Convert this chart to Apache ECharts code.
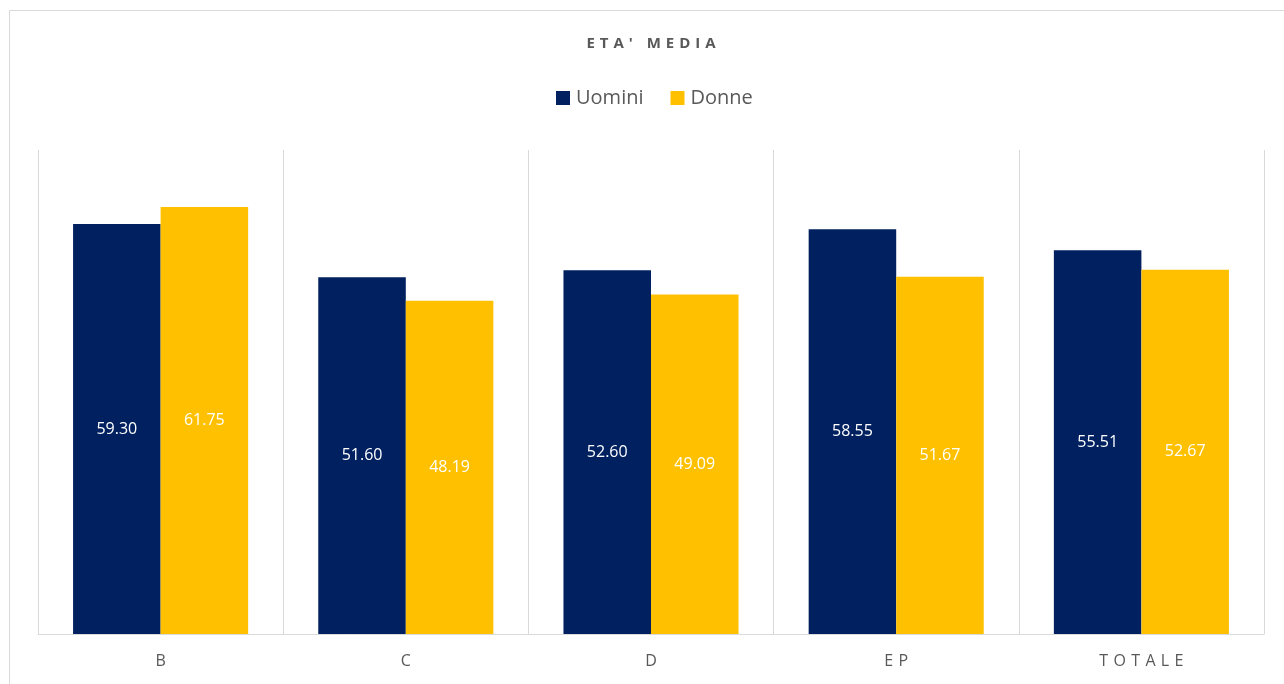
<!DOCTYPE html>
<html>
<head>
<meta charset="utf-8">
<script src="https://cdn.jsdelivr.net/npm/echarts@6/dist/echarts.min.js"></script>
<style>
  html, body { margin: 0; padding: 0; background: #ffffff; }
  #chart { width: 1284px; height: 684px; }
</style>
</head>
<body>
<div id="chart"></div>
<script>
// Average age by group, men vs women
const categories = ['B', 'C', 'D', 'EP', 'TOTALE'];
const uomini = [59.30, 51.60, 52.60, 58.55, 55.51];
const donne = [61.75, 48.19, 49.09, 51.67, 52.67];
const seriesNames = ['Uomini', 'Donne'];
const titleText = "ETA' MEDIA";

// widen letters with narrow spaces (Excel-style character spacing)
function spaced(s, gap, wordGap) {
  return s.split('').map(c => c === ' ' ? wordGap : c).join(gap);
}

const FONT = '"Open Sans", "Noto Sans", sans-serif';
const GRID_LEFT = 38, GRID_RIGHT = 20;
const plotCenter = GRID_LEFT + (1284 - GRID_LEFT - GRID_RIGHT) / 2;

const chart = echarts.init(document.getElementById('chart'), null, { renderer: 'canvas' });

chart.setOption({
  backgroundColor: '#ffffff',
  animation: false,
  graphic: [
    {
      type: 'rect',
      shape: { x: 9.5, y: 10.5, width: 1400, height: 800 },
      style: { fill: 'none', stroke: '#d9d9d9', lineWidth: 1 },
      silent: true,
      z: -10
    },
    {
      type: 'text',
      x: plotCenter,
      y: 44,
      style: {
        text: spaced(titleText, '\u2004', ' '),
        fill: '#595959',
        font: 'bold 15px ' + FONT,
        textAlign: 'center',
        textVerticalAlign: 'middle'
      },
      silent: true
    }
  ],
  legend: {
    data: seriesNames,
    top: 88,
    left: 556,
    padding: 0,
    itemWidth: 14,
    itemHeight: 14,
    itemGap: 27,
    icon: 'rect',
    textStyle: { fontFamily: FONT, fontSize: 20, color: '#595959', padding: [0, 0, 0, 1] }
  },
  grid: { left: GRID_LEFT, right: GRID_RIGHT, top: 150, bottom: 50, containLabel: false },
  xAxis: {
    type: 'category',
    data: categories,
    axisLine: { show: true, lineStyle: { color: '#d9d9d9', width: 1 } },
    axisTick: { show: false },
    splitLine: { show: true, lineStyle: { color: '#d9d9d9', width: 1 } },
    axisLabel: {
      fontFamily: FONT, fontSize: 16, color: '#595959', margin: 19,
      formatter: v => spaced(v, '\u2004', '\u2004')
    }
  },
  yAxis: {
    type: 'value',
    min: 0,
    max: 70,
    show: false,
    splitLine: { show: false }
  },
  series: [
    {
      name: seriesNames[0],
      type: 'bar',
      data: uomini,
      barWidth: '35.7%',
      barGap: '0%',
      itemStyle: { color: '#002060' },
      label: {
        show: true, position: 'inside', color: '#ffffff',
        fontFamily: FONT, fontSize: 16,
        formatter: p => p.value.toFixed(2)
      }
    },
    {
      name: seriesNames[1],
      type: 'bar',
      data: donne,
      barWidth: '35.7%',
      barGap: '0%',
      itemStyle: { color: '#FFC000' },
      label: {
        show: true, position: 'inside', color: '#ffffff',
        fontFamily: FONT, fontSize: 16,
        formatter: p => p.value.toFixed(2)
      }
    }
  ]
});
</script>
</body>
</html>
